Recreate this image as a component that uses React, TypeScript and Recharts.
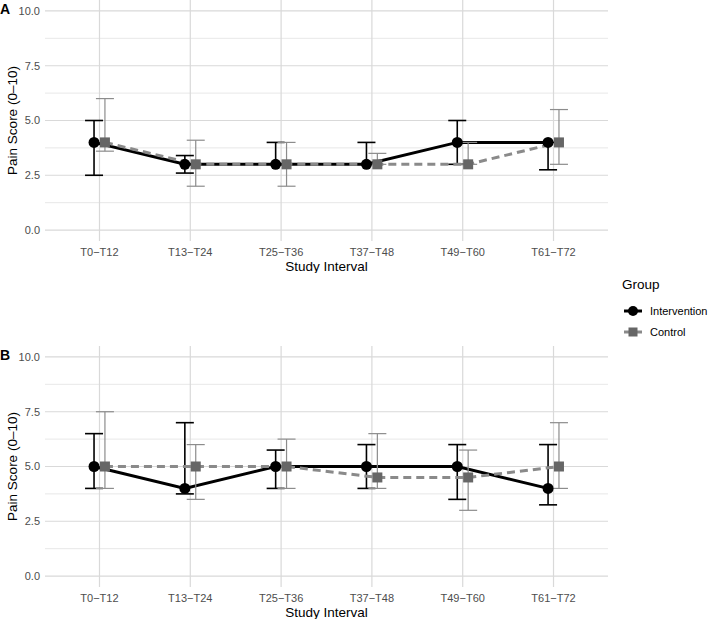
import React from "react";
import { LineChart, Line, XAxis, YAxis, ErrorBar, ReferenceLine, Label } from "recharts";

const intervals = ["T0−T12", "T13−T24", "T25−T36", "T37−T48", "T49−T60", "T61−T72"];

// Panel A
const aIntMed = [4, 3, 3, 3, 4, 4];
const aIntLow = [2.5, 2.6, 3, 3, 3, 2.75];
const aIntHigh = [5, 3.4, 4, 4, 5, 4];
const aCtlMed = [4, 3, 3, 3, 3, 4];
const aCtlLow = [3.6, 2, 2, 3, 3, 3];
const aCtlHigh = [6, 4.1, 4, 3.5, 4, 5.5];

// Panel B
const bIntMed = [5, 4, 5, 5, 5, 4];
const bIntLow = [4, 3.75, 4, 4, 3.5, 3.25];
const bIntHigh = [6.5, 7, 5.75, 6, 6, 6];
const bCtlMed = [5, 5, 5, 4.5, 4.5, 5];
const bCtlLow = [4, 3.5, 4, 4, 3, 4];
const bCtlHigh = [7.5, 6, 6.25, 6.5, 5.75, 7];

const majorY = [0, 2.5, 5, 7.5, 10];
const minorY = [1.25, 3.75, 6.25, 8.75];
const xTicks = [0, 1, 2, 3, 4, 5];
const dodge = 0.06;

const FONT = "'Liberation Sans', Arial, sans-serif";
const GRID = "#d9d9d9";
const CTL = "#666666";
const CTL_LINE = "#8a8a8a";

function makeSeries(med: number[], low: number[], high: number[], shift: number) {
  return med.map((v, i) => ({ x: i + shift, y: v, err: [v - low[i], high[i] - v] }));
}

const squareDot = (props: any) => {
  const { cx, cy, index } = props;
  if (cx == null || cy == null) return <g key={index} />;
  return <rect key={index} x={cx - 5} y={cy - 5} width={10} height={10} fill={CTL} />;
};

function Panel({ tag, top, intData, ctlData }: any) {
  return (
    <div style={{ position: "absolute", left: 0, top }}>
      <LineChart width={709} height={273} margin={{ top: 0, right: 101, bottom: 0, left: 0 }}>
        <XAxis
          type="number"
          dataKey="x"
          domain={[-0.6, 5.6]}
          ticks={xTicks}
          tickFormatter={(v: number) => intervals[v]}
          axisLine={false}
          tickLine={false}
          tickSize={0}
          tickMargin={7}
          height={32}
          interval={0}
          tick={{ fontSize: 11, fill: "#4d4d4d", fontFamily: FONT }}
        >
          <Label value="Study Interval" position="insideBottom" offset={2} style={{ fontSize: 13.5, fill: "#000", fontFamily: FONT }} />
        </XAxis>
        <YAxis
          type="number"
          domain={[-0.5, 10.5]}
          ticks={majorY}
          tickFormatter={(v: number) => v.toFixed(1)}
          axisLine={false}
          tickLine={false}
          tickSize={0}
          tickMargin={5}
          width={45}
          interval={0}
          tick={{ fontSize: 11, fill: "#4d4d4d", fontFamily: FONT }}
        >
          <Label
            value="Pain Score (0–10)"
            angle={-90}
            position="insideLeft"
            offset={12}
            style={{ textAnchor: "middle", fontSize: 13.5, fill: "#000", fontFamily: FONT }}
          />
        </YAxis>
        {minorY.map((v) => (
          <ReferenceLine key={"mn" + v} y={v} stroke={GRID} strokeWidth={0.6} />
        ))}
        {majorY.map((v) => (
          <ReferenceLine key={"mj" + v} y={v} stroke={GRID} strokeWidth={1.2} />
        ))}
        {xTicks.map((v) => (
          <ReferenceLine key={"vx" + v} x={v} stroke={GRID} strokeWidth={1.2} />
        ))}
        <Line
          data={intData}
          dataKey="y"
          type="linear"
          stroke="#000"
          strokeWidth={3}
          dot={{ r: 5.5, fill: "#000", stroke: "#000", strokeWidth: 0 }}
          activeDot={false}
          isAnimationActive={false}
        >
          <ErrorBar dataKey="err" direction="y" width={9} stroke="#000" strokeWidth={1.6} />
        </Line>
        <Line
          data={ctlData}
          dataKey="y"
          type="linear"
          stroke={CTL_LINE}
          strokeWidth={3}
          strokeDasharray="8 5"
          dot={squareDot}
          activeDot={false}
          isAnimationActive={false}
        >
          <ErrorBar dataKey="err" direction="y" width={9} stroke="#8c8c8c" strokeWidth={1.2} />
        </Line>
      </LineChart>
      <svg style={{ position: "absolute", left: 0, top: 0 }} width={20} height={20}>
        <text x={0} y={13.5} fontSize={14} fontWeight="bold" fontFamily={FONT} fill="#000">
          {tag}
        </text>
      </svg>
    </div>
  );
}

function LegendBox() {
  const row = (label: string, kind: "int" | "ctl", y: number) => (
    <div style={{ position: "absolute", left: 0, top: y, display: "flex", alignItems: "center", height: 16 }}>
      <svg width={24} height={16}>
        {kind === "int" ? (
          <>
            <line x1={3} y1={8} x2={21} y2={8} stroke="#000" strokeWidth={3} />
            <circle cx={12} cy={8} r={5} fill="#000" />
          </>
        ) : (
          <>
            <line x1={3} y1={8} x2={21} y2={8} stroke={CTL_LINE} strokeWidth={3} />
            <rect x={7.5} y={3.5} width={9} height={9} fill={CTL} />
          </>
        )}
      </svg>
      <span style={{ marginLeft: 5, fontSize: 11, color: "#000" }}>{label}</span>
    </div>
  );
  return (
    <div style={{ position: "absolute", left: 621, top: 277, width: 88, height: 70, fontFamily: FONT }}>
      <div style={{ position: "absolute", left: 1, top: 0, fontSize: 13.5, color: "#000" }}>Group</div>
      {row("Intervention", "int", 26)}
      {row("Control", "ctl", 47)}
    </div>
  );
}

export default function App() {
  const aInt = makeSeries(aIntMed, aIntLow, aIntHigh, -dodge);
  const aCtl = makeSeries(aCtlMed, aCtlLow, aCtlHigh, dodge);
  const bInt = makeSeries(bIntMed, bIntLow, bIntHigh, -dodge);
  const bCtl = makeSeries(bCtlMed, bCtlLow, bCtlHigh, dodge);
  return (
    <div style={{ position: "absolute", left: 0, top: 0, width: 709, height: 620, background: "#fff", fontFamily: FONT }}>
      <Panel tag="A" top={0} intData={aInt} ctlData={aCtl} />
      <Panel tag="B" top={346} intData={bInt} ctlData={bCtl} />
      <LegendBox />
    </div>
  );
}
